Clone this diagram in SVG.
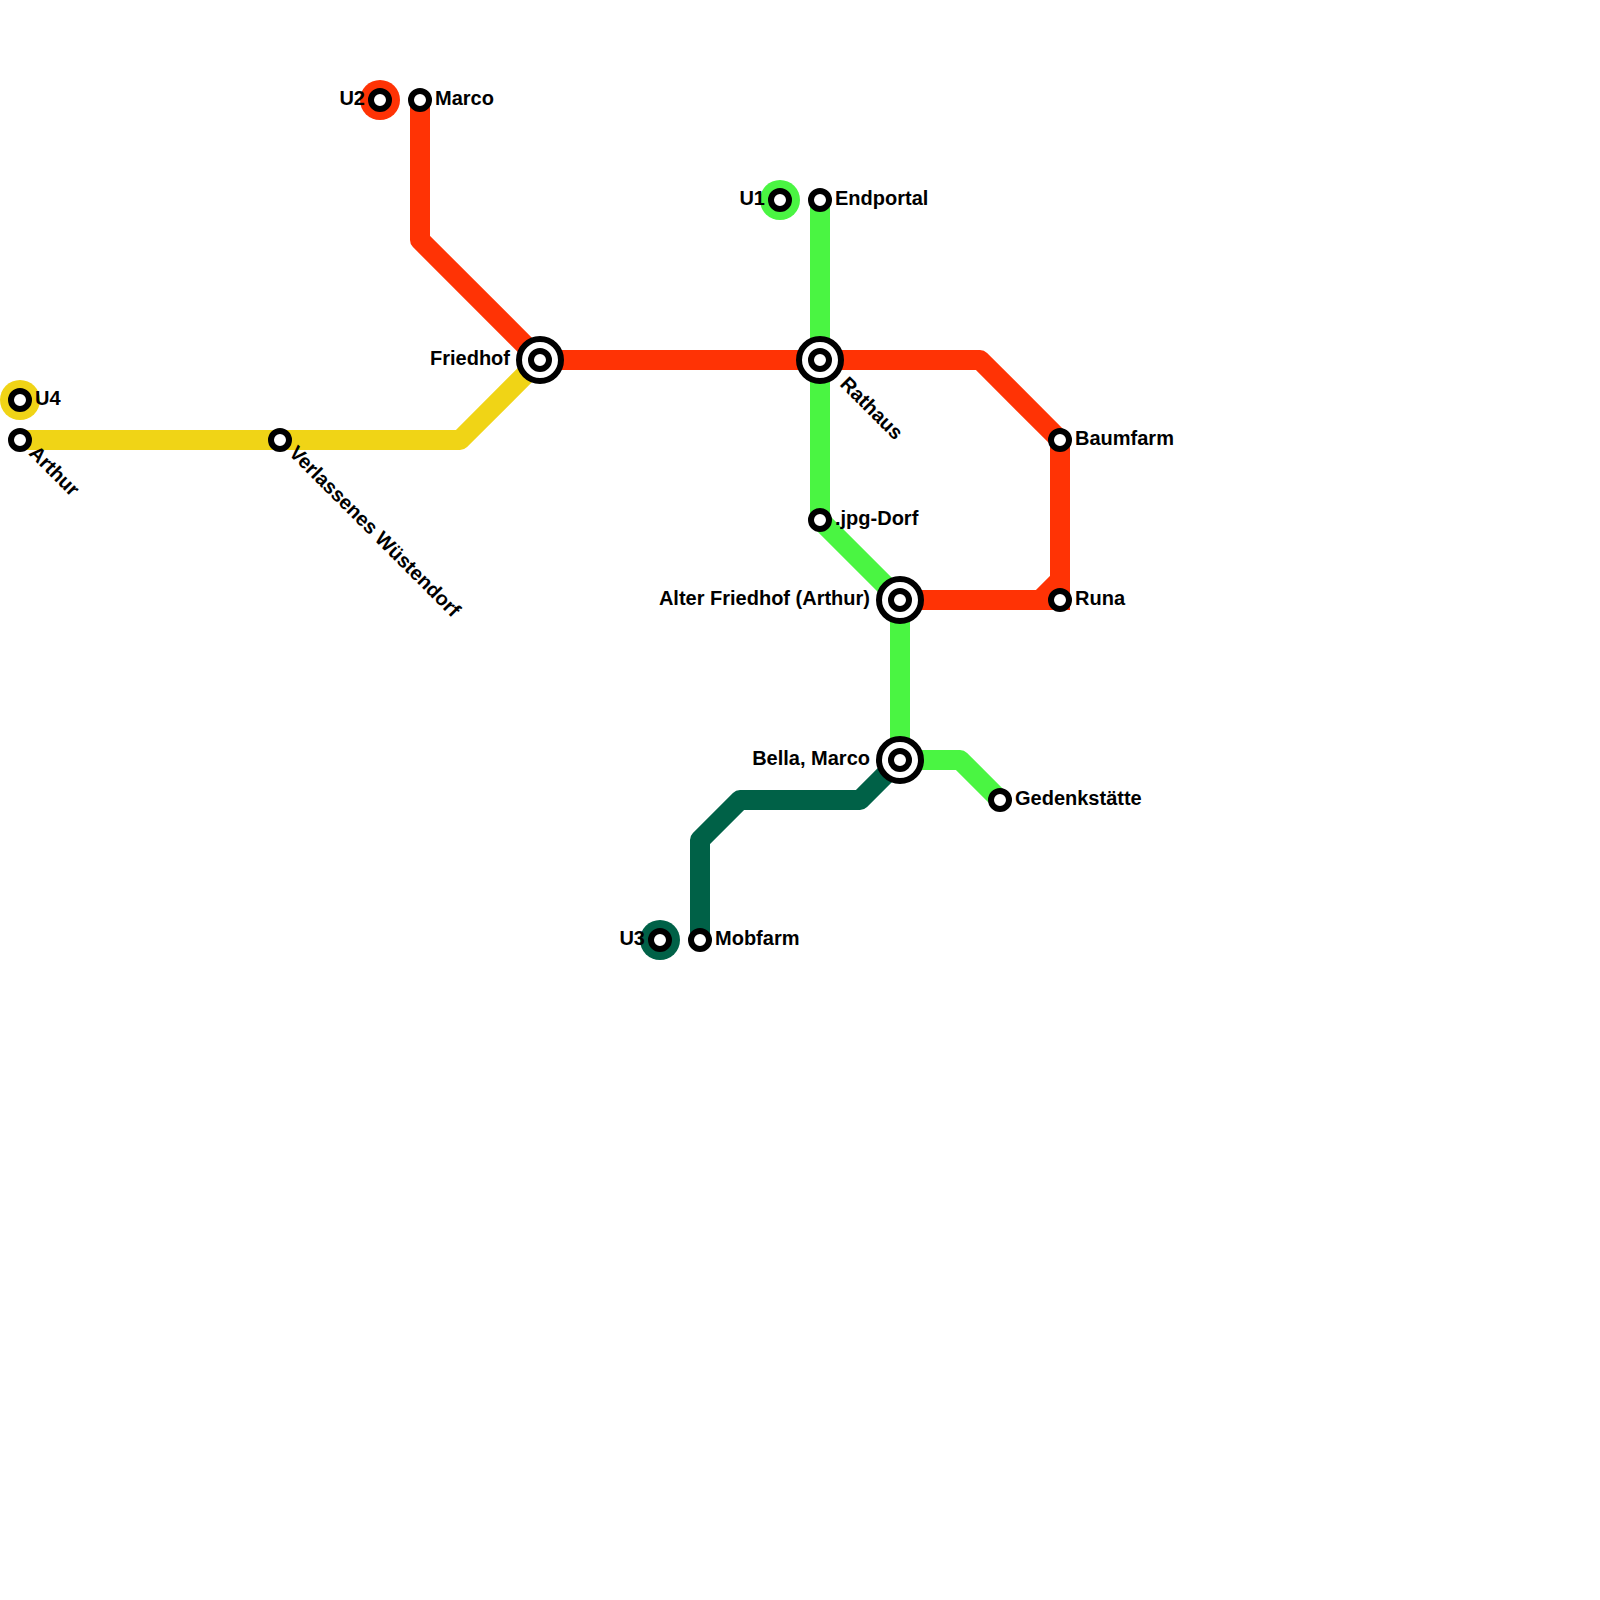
<svg xmlns="http://www.w3.org/2000/svg" width="1600" height="1600" viewBox="0 0 1600 1600">
<style>
.l{fill:none;stroke-width:20;stroke-linejoin:round}
.y{stroke:#f0d416}.r{stroke:#ff3305}.g{stroke:#4af542}.d{stroke:#006147}
.s{fill:#fff;stroke:#000;stroke-width:6}
.b{fill:#fff;stroke:#000;stroke-width:6}
text{font-family:"Liberation Sans",Arial,sans-serif;font-weight:700;font-size:20px;fill:#000}
.e{text-anchor:end}
</style>
<rect width="1600" height="1600" fill="#fff"/>
<g id="connectors">
<path class="l y" d="M20 440H460L540 360"/>
<path class="l d" d="M700 940V840L740 800H860L900 760"/>
<path class="l g" d="M820 200V520L900 600V760H960L1000 800"/>
<path class="l r" d="M420 100V240L540 360H980L1060 440V580L1040 600H900"/>
<path class="l r" style="stroke-linejoin:miter" d="M1060 580V600H1040"/>
</g>
<g id="terminus-u4"><circle cx="20" cy="400" r="20" fill="#f0d416"/><circle class="s" cx="20" cy="400" r="9"/><text x="35" y="405">U4</text></g>
<g id="terminus-u2"><circle cx="380" cy="100" r="20" fill="#ff3305"/><circle class="s" cx="380" cy="100" r="9"/><text class="e" x="365" y="105">U2</text></g>
<g id="terminus-u1"><circle cx="780" cy="200" r="20" fill="#4af542"/><circle class="s" cx="780" cy="200" r="9"/><text class="e" x="765" y="205">U1</text></g>
<g id="terminus-u3"><circle cx="660" cy="940" r="20" fill="#006147"/><circle class="s" cx="660" cy="940" r="9"/><text class="e" x="645" y="945">U3</text></g>
<g id="arthur"><circle class="s" cx="20" cy="440" r="9"/><text transform="translate(33 449) rotate(45)" x="0" y="7">Arthur</text></g>
<g id="verlassenes"><circle class="s" cx="280" cy="440" r="9"/><text transform="translate(293 449) rotate(45)" x="0" y="7">Verlassenes Wüstendorf</text></g>
<g id="marco"><circle class="s" cx="420" cy="100" r="9"/><text x="435" y="105">Marco</text></g>
<g id="friedhof"><circle class="b" cx="540" cy="360" r="21"/><circle class="s" cx="540" cy="360" r="9"/><text class="e" x="510" y="365">Friedhof</text></g>
<g id="endportal"><circle class="s" cx="820" cy="200" r="9"/><text x="835" y="205">Endportal</text></g>
<g id="rathaus"><circle class="b" cx="820" cy="360" r="21"/><circle class="s" cx="820" cy="360" r="9"/><text transform="translate(844 380) rotate(45)" x="0" y="7">Rathaus</text></g>
<g id="jpg-dorf"><circle class="s" cx="820" cy="520" r="9"/><text x="835" y="525">.jpg-Dorf</text></g>
<g id="alter-friedhof"><circle class="b" cx="900" cy="600" r="21"/><circle class="s" cx="900" cy="600" r="9"/><text class="e" x="870" y="605">Alter Friedhof (Arthur)</text></g>
<g id="bella-marco"><circle class="b" cx="900" cy="760" r="21"/><circle class="s" cx="900" cy="760" r="9"/><text class="e" x="870" y="765">Bella, Marco</text></g>
<g id="gedenkstaette"><circle class="s" cx="1000" cy="800" r="9"/><text x="1015" y="805">Gedenkstätte</text></g>
<g id="mobfarm"><circle class="s" cx="700" cy="940" r="9"/><text x="715" y="945">Mobfarm</text></g>
<g id="baumfarm"><circle class="s" cx="1060" cy="440" r="9"/><text x="1075" y="445">Baumfarm</text></g>
<g id="runa"><circle class="s" cx="1060" cy="600" r="9"/><text x="1075" y="605">Runa</text></g>
</svg>
